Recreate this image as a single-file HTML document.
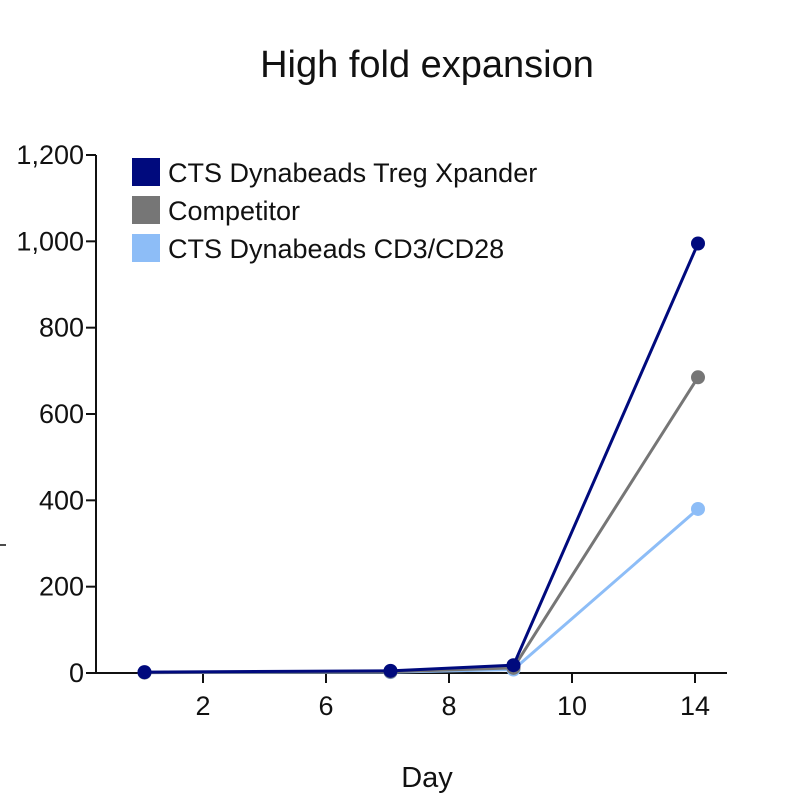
<!DOCTYPE html>
<html><head><meta charset="utf-8"><style>
body{margin:0;background:#fff}
svg text{font-family:"Liberation Sans",Arial,sans-serif;fill:#111}
</style></head><body>
<svg width="800" height="800" viewBox="0 0 800 800">
<text x="427" y="77" font-size="38" text-anchor="middle">High fold expansion</text>
<line x1="0" y1="545" x2="6" y2="545" stroke="#111" stroke-width="1.5"/>
<g id="axes"></g>
<g id="series"></g>
<g id="legend"></g>
<text x="427" y="787" font-size="29" text-anchor="middle">Day</text>
</svg>
<script>
const xTickDays=[2,6,8,10,14];
const yTicks=[0,200,400,600,800,1000,1200];
const yTickLabels=["0","200","400","600","800","1,000","1,200"];
const days=[0,7,9,14];
const seriesNames=["CTS Dynabeads Treg Xpander","Competitor","CTS Dynabeads CD3/CD28"];
const tregValues=[2,5,18,995];
const competitorValues=[1,3,12,685];
const cd3Values=[1,2,8,380];
const colors=["#000a7d","#767676","#8dbdf7"];
const NS="http://www.w3.org/2000/svg";
const x0=203,step=123,yBase=673,yTop=155,ptShift=3;
function xs(d){
  let i=0;
  while(i<xTickDays.length-2&&d>xTickDays[i+1])i++;
  return x0+step*i+step*(d-xTickDays[i])/(xTickDays[i+1]-xTickDays[i]);
}
function ys(v){return yBase-(v/1200)*(yBase-yTop);}
function mk(t,a,p){const e=document.createElementNS(NS,t);for(const k in a)e.setAttribute(k,a[k]);p.appendChild(e);return e;}
const ax=document.getElementById('axes');
const ya=mk('line',{x1:96,y1:yTop,x2:96,y2:yBase,stroke:'#111','stroke-width':2},ax);


const xa=mk('line',{x1:95,y1:yBase,x2:727,y2:yBase,stroke:'#111','stroke-width':2},ax);


yTicks.forEach((v,i)=>{
  const y=ys(v);
  mk('line',{x1:86,y1:y,x2:96,y2:y,stroke:'#111','stroke-width':2},ax);
  const t=mk('text',{x:84,y:y+9,'font-size':27,'text-anchor':'end'},ax);
  t.textContent=yTickLabels[i];
  
  
});
xTickDays.forEach(d=>{
  const x=xs(d);
  mk('line',{x1:x,y1:yBase,x2:x,y2:yBase+10,stroke:'#111','stroke-width':2},ax);
  const t=mk('text',{x:x,y:yBase+42,'font-size':27,'text-anchor':'middle'},ax);
  t.textContent=d;
  
  
});
const sg=document.getElementById('series');
[cd3Values,competitorValues,tregValues].forEach((vals,k)=>{
  const ci=2-k;
  const g=mk('g',{},sg);
  
  
  const pts=vals.map((v,i)=>(xs(days[i])+ptShift)+','+ys(v)).join(' ');
  const pl=mk('polyline',{points:pts,fill:'none',stroke:colors[ci],'stroke-width':3},g);
  
  
  vals.forEach((v,i)=>{
    const c=mk('circle',{cx:xs(days[i])+ptShift,cy:ys(v),r:7,fill:colors[ci]},g);
    
    
  });
});
const lg=document.getElementById('legend');
seriesNames.forEach((n,i)=>{
  const y=172+38*i;
  const g=mk('g',{},lg);
  
  
  mk('rect',{x:132,y:y-14,width:28,height:28,fill:colors[i]},g);
  const t=mk('text',{x:168,y:y+10,'font-size':27},g);
  t.textContent=n;
});
</script>
</body></html>
